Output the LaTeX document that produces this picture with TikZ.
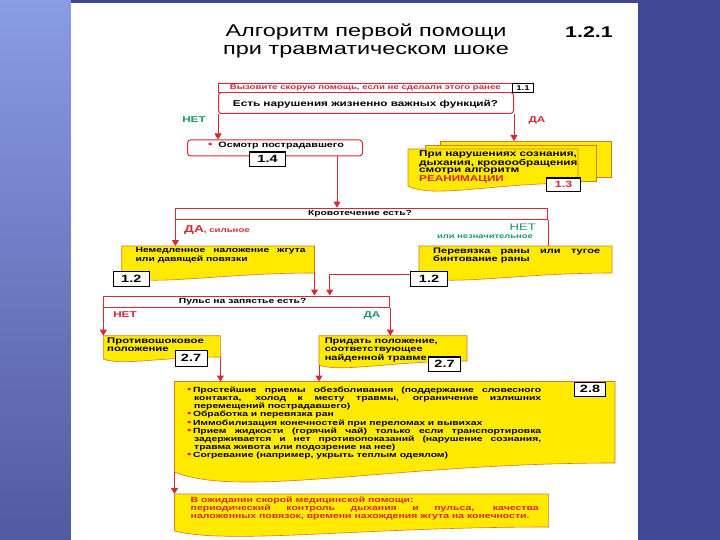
\documentclass[tikz,border=0pt]{standalone}
\usepackage{fontspec}
\setmainfont{Liberation Sans}[FakeStretch=1.38]
\usetikzlibrary{arrows.meta}
\definecolor{myred}{RGB}{214,40,56}
\definecolor{mygreen}{RGB}{30,150,110}
\definecolor{myyellow}{RGB}{255,234,0}
\definecolor{yedge}{RGB}{214,120,40}
\definecolor{bgdark}{RGB}{62,72,148}
\definecolor{bglight}{RGB}{138,156,228}
\tikzset{%
  redline/.style = { draw=myred, line width=1pt },
  arr/.style = { redline, -{Triangle[width=7pt,length=6pt]} },
  qbox/.style = { redline, fill=white, inner sep=0pt, anchor=north west },
  ybox/.style = { draw=yedge, line width=0.6pt, fill=myyellow },
  numbox/.style = { draw=black, line width=1.1pt, fill=white, inner sep=0pt, anchor=north west, font=\bfseries\fontsize{10.5}{11}\selectfont },
  txt/.style = { anchor=north west, inner sep=0pt, align=justify, font=\bfseries\fontsize{8}{8.2}\selectfont },
  qtxt/.style = { inner sep=0pt, font=\bfseries\fontsize{7.5}{8}\selectfont },
  yes/.style = { inner sep=0pt, font=\bfseries\fontsize{8.5}{9}\selectfont },
  no/.style = { yes }
}
\newcommand{\dotitem}{\hangindent=7pt\hangafter=1{\color{myred}\fontsize{9}{8}\selectfont\textbullet}\hspace{1.5pt}}
% document shape: name, x1, ytop, x2, yright, yleft, dip control
\newcommand{\docbox}[7]{%
  \coordinate (#1-nw) at (#2,#3);
  \coordinate (#1-ne) at (#4,#3);
  \coordinate (#1-se) at (#4,#5);
  \coordinate (#1-sw) at (#2,#6);
  \draw[ybox] (#1-nw) -- (#1-ne) -- (#1-se) .. controls ({(#2+#4)/2},#5) and ({#2+0.15*(#4-#2)},#7) .. (#1-sw) -- cycle;
}
\begin{document}
\begin{tikzpicture}[x=1pt,y=-1pt]
  \useasboundingbox (0,0) rectangle (720,540);

  % slide background
  \shade[top color=bglight, bottom color=bgdark!90] (0,0) rectangle (71,540);
  \fill[bgdark] (638,0) rectangle (720,540);
  \fill[bgdark] (71,0) rectangle (638,3);
  \fill[white] (71,3) rectangle (638,540);

  % title
  \node[font=\fontsize{17}{18}\selectfont, align=center] (title) at (366,41) {Алгоритм первой помощи\\при травматическом шоке};
  \node[font=\bfseries\fontsize{15.5}{17}\selectfont] (chap) at (589,32) {1.2.1};

  % first question
  \node[qbox, rounded corners=3, minimum width=295, minimum height=21] (vital) at (218,92) {};
  \node[qtxt, font=\bfseries\fontsize{8.5}{9}\selectfont] (vitaltxt) at (365.5,104) {Есть нарушения жизненно важных функций?};
  \node[qbox, line width=0.7pt, minimum width=294, minimum height=9, text=myred, font=\bfseries\fontsize{7}{7}\selectfont] (call) at (218,83) {Вызовите скорую помощь, если не сделали этого ранее};
  \node[numbox, minimum width=21, minimum height=9, font=\bfseries\fontsize{7}{7}\selectfont] (n11) at (512,83) {1.1};

  \node[yes, text=mygreen] (no1) at (194,120) {НЕТ};
  \node[no, text=myred] (yes1) at (537,120) {ДА};

  % examination
  \node[qbox, rounded corners=3, minimum width=175, minimum height=16] (exam) at (187,139.5) {};
  \node[qtxt, font=\bfseries\fontsize{7.8}{8}\selectfont] (examtxt) at (276,145.5) {{\color{myred}\fontsize{9}{8}\selectfont\textbullet}\ \ Осмотр пострадавшего};
  \node[numbox, minimum width=36, minimum height=14.5] (n14) at (249,151.5) {1.4};

  % reanimation stack
  \coordinate (back) at (440,141);
  \draw[ybox] (back) rectangle (611,177);
  \draw[ybox] (425,145) rectangle (596,181);
  \docbox{reanim}{408}{149}{578}{183}{186}{199}
  \node[txt, align=left, font=\bfseries\fontsize{8.5}{7.1}\selectfont] (reanimtxt) at (419,150.5) {При нарушениях сознания,\\дыхания, кровообращения\\смотри алгоритм\\{\color{myred}РЕАНИМАЦИИ}};
  \node[numbox, minimum width=34, minimum height=13.5, text=myred, font=\bfseries\fontsize{9}{9}\selectfont] (n13) at (546,177.5) {1.3};

  % bleeding
  \node[qbox, minimum width=371.6, minimum height=11.4] (bleed) at (175.4,207.6) {};
  \node[qtxt] (bleedtxt) at (360,213.5) {Кровотечение есть?};
  \node[yes, text=myred, anchor=west, font=\bfseries\fontsize{10}{10}\selectfont] (yes2) at (184,230) {ДА{\fontsize{7}{8}\selectfont, сильное}};
  \node[no, text=mygreen, font=\fontsize{9.5}{10}\selectfont, anchor=east] (no2) at (536,227.5) {НЕТ};
  \node[no, text=mygreen, font=\bfseries\fontsize{6.8}{7}\selectfont, anchor=east] (no2b) at (533,237) {или незначительное};

  \docbox{tourn}{121.7}{246}{314.5}{273}{276}{287}
  \node[txt, text width=170pt, font=\bfseries\fontsize{7.5}{8.2}\selectfont] (tourntxt) at (135.4,247.5) {Немедленное наложение жгута\linebreak или давящей повязки};
  \node[numbox, minimum width=36.5, minimum height=15] (n12a) at (112.5,271) {1.2};

  \docbox{band}{419}{246}{612}{273}{276}{287}
  \node[txt, text width=167pt] (bandtxt) at (433,247.5) {Перевязка раны или тугое\linebreak бинтование раны};
  \node[numbox, minimum width=37, minimum height=15] (n12b) at (410,271) {1.2};

  % pulse
  \node[qbox, minimum width=286, minimum height=11.5] (pulse) at (103.3,295.5) {};
  \node[qtxt] (pulsetxt) at (242.6,302) {Пульс на запястье есть?};
  \node[no, text=myred] (no3) at (125,315) {НЕТ};
  \node[yes, text=mygreen] (yes3) at (372,315) {ДА};

  \docbox{shock}{103.3}{335.7}{220.4}{357}{359}{366}
  \node[txt, align=left, font=\bfseries\fontsize{8.2}{8.4}\selectfont] (shocktxt) at (107,337.5) {Противошоковое\\положение};
  \node[numbox, minimum width=32, minimum height=16] (n27a) at (174.5,349.5) {2.7};

  \docbox{pose}{319}{335.7}{467}{361}{365}{373}
  \node[txt, align=left, font=\bfseries\fontsize{8}{8.4}\selectfont] (posetxt) at (324.6,337.5) {Придать положение,\\соответствующее\\найденной травме};
  \node[numbox, minimum width=32, minimum height=14.6] (n27b) at (428,356.4) {2.7};

  % care
  \docbox{care}{174.5}{381.5}{615}{463}{472}{499}
  \node[txt, text width=354pt, font=\bfseries\fontsize{7.5}{8.2}\selectfont] (caretxt) at (187,386.5) {%
    \dotitem Простейшие приемы обезболивания (поддержание словесного\linebreak контакта, холод к месту травмы, ограничение излишних\linebreak перемещений пострадавшего)\par
    \dotitem Обработка и перевязка ран\par
    \dotitem Иммобилизация конечностей при переломах и вывихах\par
    \dotitem Прием жидкости (горячий чай) только если транспортировка\linebreak задерживается и нет противопоказаний (нарушение сознания,\linebreak травма живота или подозрение на нее)\par
    \dotitem Согревание (например, укрыть теплым одеялом)};
  \node[numbox, minimum width=31, minimum height=14.5] (n28) at (574,381.5) {2.8};

  % waiting
  \docbox{wait}{174.5}{494}{548.6}{527}{531}{545}
  \node[txt, text width=348pt, text=myred, font=\bfseries\fontsize{7.6}{8.2}\selectfont] (waittxt) at (190.5,496.5) {В ожидании скорой медицинской помощи:\\периодический контроль дыхания и пульса, качества\linebreak наложенных повязок, времени нахождения жгута на конечности.};

  % connectors
  \draw[arr] (vital.south west) -- (vital.south west |- exam.north);
  \draw[arr] (vital.south east) -- (vital.south east |- back);
  \draw[arr] ([xshift=62pt]exam.south) -- ([xshift=62pt]exam.south |- bleed.north);
  \draw[arr] (bleed.south west) -- (bleed.south west |- tourn-nw);
  \draw[redline] (bleed.south east) -- (bleed.south east |- band-nw);
  \draw[arr] (tourn-se) -- (tourn-se |- pulse.north);
  \coordinate (turn) at (329.7,274.5);
  \draw[arr] (n12b.west |- turn) -- (turn) -- (turn |- pulse.north);
  \draw[arr] (pulse.south west) -- (pulse.south west |- shock-nw);
  \draw[arr] (pulse.south east) -- (pulse.south east |- pose-nw);
  \draw[arr] (shock-se) -- (shock-se |- care-nw);
  \draw[arr] (pose-sw) -- (pose-sw |- care-nw);
  \draw[arr] (care-sw) -- (care-sw |- wait-nw);
\end{tikzpicture}
\end{document}
